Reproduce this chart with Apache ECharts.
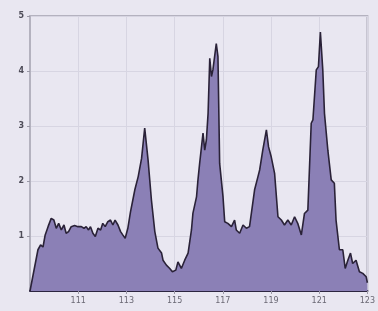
<!DOCTYPE html>
<html>
<head>
<meta charset="utf-8">
<script src="https://cdn.jsdelivr.net/npm/echarts@6/dist/echarts.min.js"></script>
<style>
html,body{margin:0;padding:0;background:#e9e7f1;}
#c{width:378px;height:311px;}
</style>
</head>
<body>
<div id="c"></div>
<script>
const xValues = [109.0,109.33,109.44,109.54,109.63,109.75,109.88,109.99,110.09,110.19,110.30,110.41,110.50,110.60,110.71,110.85,110.99,111.13,111.24,111.33,111.43,111.51,111.61,111.71,111.82,111.93,112.02,112.12,112.23,112.34,112.44,112.53,112.65,112.76,112.85,112.95,113.06,113.17,113.31,113.35,113.49,113.63,113.69,113.76,113.90,114.04,114.18,114.31,114.46,114.52,114.66,114.80,114.91,115.05,115.14,115.28,115.42,115.56,115.70,115.76,115.91,115.97,116.04,116.18,116.25,116.32,116.39,116.46,116.53,116.59,116.73,116.80,116.87,117.01,117.08,117.21,117.36,117.49,117.56,117.70,117.84,117.98,118.11,118.32,118.46,118.53,118.66,118.81,118.90,119.01,119.15,119.29,119.43,119.56,119.70,119.84,119.98,120.11,120.26,120.39,120.53,120.67,120.74,120.88,120.97,121.05,121.15,121.22,121.36,121.50,121.63,121.70,121.84,121.98,122.08,122.19,122.30,122.39,122.53,122.67,122.81,122.95,123.0];
const yValues = [0,0.75,0.84,0.80,1.02,1.17,1.32,1.29,1.14,1.23,1.11,1.20,1.05,1.08,1.17,1.19,1.17,1.17,1.14,1.17,1.11,1.17,1.05,0.99,1.14,1.11,1.23,1.17,1.26,1.29,1.20,1.29,1.20,1.08,1.02,0.96,1.14,1.44,1.75,1.84,2.08,2.41,2.44,2.96,2.38,1.65,1.08,0.78,0.69,0.56,0.47,0.41,0.35,0.38,0.53,0.41,0.56,0.69,1.11,1.41,1.71,2.02,2.32,2.87,2.56,2.75,3.23,4.23,3.90,4.02,4.50,4.26,2.32,1.71,1.26,1.23,1.17,1.29,1.11,1.05,1.20,1.14,1.17,1.84,2.08,2.20,2.56,2.93,2.62,2.44,2.14,1.35,1.29,1.20,1.29,1.20,1.35,1.23,1.02,1.41,1.47,3.05,3.11,4.02,4.08,4.71,4.02,3.23,2.56,2.02,1.96,1.29,0.75,0.75,0.41,0.56,0.69,0.50,0.56,0.35,0.32,0.26,0.15];
const xTicks = [111,113,115,117,119,121,123];
const yTicks = [1,2,3,4,5];

const chart = echarts.init(document.getElementById('c'));
chart.setOption({
  backgroundColor: '#e9e7f1',
  animation: false,
  grid: {left: 30, top: 16, right: 10, bottom: 20, show: true, borderColor: '#b4b2bf', borderWidth: 2, backgroundColor: 'transparent'},
  xAxis: {
    type: 'value', min: 109, max: 123, interval: 2,
    axisLine: {show: true, onZero: false, lineStyle: {color: '#2c2540', width: 2}},
    axisTick: {show: true, length: 3, lineStyle: {color: '#9a98a6'}},
    axisLabel: {showMinLabel: false, fontSize: 8, color: '#6a6874', margin: 6, fontFamily: 'DejaVu Sans'},
    splitLine: {show: true, lineStyle: {color: '#d7d5e2', width: 1}}
  },
  yAxis: {
    type: 'value', min: 0, max: 5, interval: 1,
    axisLine: {show: true, lineStyle: {color: '#b4b2bf', width: 2}},
    axisTick: {show: true, length: 3, customValues: yTicks, lineStyle: {color: '#9a98a6'}},
    axisLabel: {customValues: yTicks, fontSize: 8, color: '#4e4c58', margin: 6, fontFamily: 'DejaVu Sans', fontWeight: 'bold'},
    splitLine: {show: true, lineStyle: {color: '#d7d5e2', width: 1}}
  },
  series: [{
    type: 'line',
    data: xValues.map((x, i) => [x, yValues[i]]),
    showSymbol: false,
    lineStyle: {color: '#2a2238', width: 1.6},
    areaStyle: {color: '#8b80b6', opacity: 1},
    z: 3
  }]
});
</script>
</body>
</html>
